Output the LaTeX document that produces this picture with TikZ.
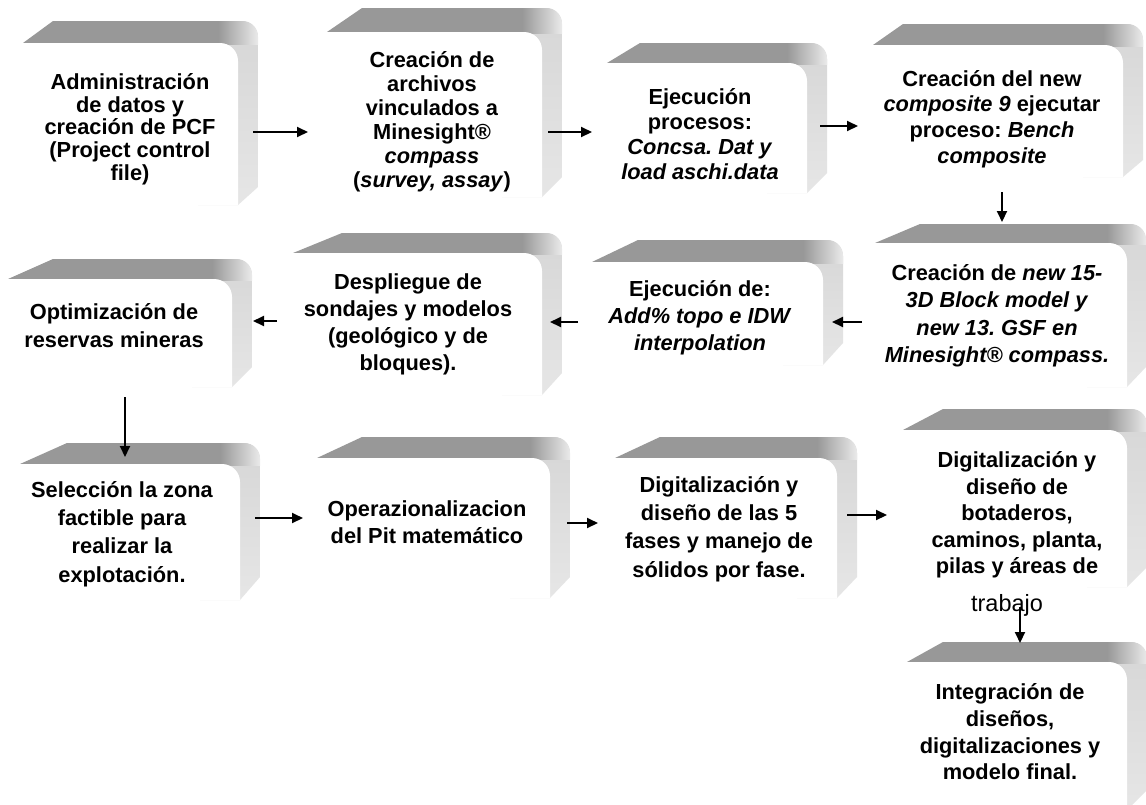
\documentclass[tikz,border=0pt]{standalone}
\usepackage{fontspec}
\setmainfont{Liberation Sans}
\usetikzlibrary{arrows.meta}
\frenchspacing
\definecolor{topgray}{HTML}{989898}
\definecolor{sideA}{HTML}{D6D6D6}
\definecolor{sideB}{HTML}{E6E6E6}
\definecolor{cornerlight}{HTML}{ECECEC}
% #1 L, #2 UL, #3 Tout, #4 T, #5 R, #6 Rout, #7 B, #8 Bout
\newcommand{\cbox}[8]{%
  \begin{scope}
    \clip (#1,#4) -- (#2,#3) -- ({#6-16},#3) .. controls ({#6-7},#3) and (#6,{#3+7}) .. (#6,{#3+16})
      -- (#6,#8) -- (#5,#7) -- (#1,#7) -- cycle;
    \shade[top color=sideA, bottom color=sideB] ({#5-40},#3) rectangle (#6,#7);
    \fill[topgray] ({#1-5},{#3-2}) rectangle ({#5-20},{#4+1});
    \shade[left color=topgray, right color=cornerlight] ({#5-20},{#3-2}) rectangle ({#6+1},{#4+1});
  \end{scope}
  \fill[white] (#1,#4) -- ({#5-18},#4) .. controls ({#5-8},#4) and (#5,{#4+8}) .. (#5,{#4+18})
    -- (#5,#7) -- (#1,#7) -- cycle;
}
\tikzset{
  face/.style={draw=none, inner sep=0pt, outer sep=0pt},
  txt/.style={align=center, inner sep=0pt, text=black},
  arr/.style={line width=2pt, -{Triangle[length=11pt,width=10pt]}},
}
\newcommand{\tf}[1]{\fontsize{21.8}{#1}\selectfont\bfseries}
\begin{document}
\begin{tikzpicture}[x=1pt,y=-1pt]
\useasboundingbox (0,0) rectangle (1146,804);
\fill[white] (0,0) rectangle (1146,804);
% boxes
\cbox{23}{53}{21}{43}{238}{258}{205}{187}
\cbox{327}{362}{8}{32}{542}{562}{197}{177}
\cbox{607}{640}{43}{63}{807}{827}{193}{173}
\cbox{873}{903}{24}{45}{1123}{1143}{177}{160}
\cbox{875}{920}{224}{243}{1127}{1146}{387}{367}
\cbox{592}{638}{240}{262}{823}{843}{365}{343}
\cbox{293}{342}{233}{253}{542}{562}{395}{373}
\cbox{8}{53}{259}{279}{232}{252}{387}{367}
\cbox{20}{67}{443}{464}{240}{260}{600}{577}
\cbox{317}{362}{437}{458}{550}{570}{598}{577}
\cbox{615}{660}{437}{458}{837}{857}{598}{577}
\cbox{903}{943}{409}{430}{1127}{1147}{587}{567}
\cbox{907}{943}{642}{662}{1127}{1147}{810}{790}
% face nodes
\node[face, minimum width=215pt, minimum height=162pt] (b1) at (130.5,124) {};
\node[face, minimum width=215pt, minimum height=165pt] (b2) at (434.5,114.5) {};
\node[face, minimum width=200pt, minimum height=130pt] (b3) at (707,128) {};
\node[face, minimum width=250pt, minimum height=132pt] (b4) at (998,111) {};
\node[face, minimum width=252pt, minimum height=144pt] (b5) at (1001,315) {};
\node[face, minimum width=231pt, minimum height=103pt] (b6) at (707.5,313.5) {};
\node[face, minimum width=249pt, minimum height=142pt] (b7) at (417.5,324) {};
\node[face, minimum width=224pt, minimum height=108pt] (b8) at (120,333) {};
\node[face, minimum width=220pt, minimum height=136pt] (b9) at (130,532) {};
\node[face, minimum width=233pt, minimum height=140pt] (b10) at (433.5,528) {};
\node[face, minimum width=222pt, minimum height=140pt] (b11) at (726,528) {};
\node[face, minimum width=224pt, minimum height=157pt] (b12) at (1015,508.5) {};
\node[face, minimum width=220pt, minimum height=148pt] (b13) at (1017,736) {};
% texts
\node[txt, font=\tf{22.7}] (t1) at (130,129) {Administración\\de datos y\\creación de PCF\\(Project control\\file)};
\node[txt, font=\tf{24}] (t2) at (432,122) {Creación de\\archivos\\vinculados a\\Minesight®\\\textit{compass}\\(\textit{survey, assay})};
\node[txt, font=\tf{25}] (t3) at (700,134) {Ejecución\\procesos:\\\textit{Concsa. Dat y}\\\textit{load aschi.data}};
\node[txt, font=\tf{25.7}] (t4) at (992,119) {Creación del new\\\textit{composite 9} ejecutar\\proceso: \textit{Bench}\\\textit{composite}};
\node[txt, font=\tf{27.5}] (t5) at (997,316) {Creación de \textit{new 15-}\\\textit{3D Block model y}\\\textit{new 13. GSF en}\\\textit{Minesight® compass.}};
\node[txt, font=\tf{27}] (t6) at (700,318) {Ejecución de:\\\textit{Add\% topo e IDW}\\\textit{interpolation}};
\node[txt, font=\tf{27}] (t7) at (408,324) {Despliegue de\\sondajes y modelos\\(geológico y de\\bloques).};
\node[txt, font=\tf{28}] (t8) at (114,326) {Optimización de\\reservas mineras};
\node[txt, font=\tf{28.3}] (t9) at (122,534) {Selección la zona\\factible para\\realizar la\\explotación.};
\node[txt, font=\tf{26.7}] (t10) at (427,522) {Operazionalizacion\\del Pit matemático};
\node[txt, font=\tf{28.3}] (t11) at (719,529) {Digitalización y\\diseño de las 5\\fases y manejo de\\sólidos por fase.};
\node[txt, font=\tf{26.5}] (t12) at (1017,515) {Digitalización y\\diseño de\\botaderos,\\caminos, planta,\\pilas y áreas de};
\node[txt, font={\fontsize{23.5}{28}\selectfont}] (t12b) at (1007,605) {trabajo};
\node[txt, font=\tf{26.7}] (t13) at (1010,732) {Integración de\\diseños,\\digitalizaciones y\\modelo final.};
% arrows
\draw[arr] ([shift={(15,8)}]b1.east) -- ([shift={(-19,17.5)}]b2.west);
\draw[arr] ([shift={(6,17.5)}]b2.east) -- ([shift={(-15,4)}]b3.west);
\draw[arr] ([shift={(13,-2)}]b3.east) -- ([shift={(-15,15)}]b4.west);
\draw[arr] ([shift={(4,15)}]b4.south) -- ([shift={(1,-21)}]b5.north);
\draw[arr] ([shift={(-13,7)}]b5.west) -- ([shift={(9,8.5)}]b6.east);
\draw[arr] ([shift={(-14,8.5)}]b6.west) -- ([shift={(8,-2)}]b7.east);
\draw[arr] ([shift={(-16,-3)}]b7.west) -- ([shift={(21,-12)}]b8.east);
\draw[arr] ([shift={(5,10)}]b8.south) -- ([shift={(-5,-7)}]b9.north);
\draw[arr] ([shift={(15,-14)}]b9.east) -- ([shift={(-14,-10)}]b10.west);
\draw[arr] ([shift={(17,-5)}]b10.east) -- ([shift={(-17,-5)}]b11.west);
\draw[arr] ([shift={(10,-13)}]b11.east) -- ([shift={(-16,6.5)}]b12.west);
\draw[arr] ([shift={(5,20)}]b12.south) -- ([shift={(3,-19)}]b13.north);
\end{tikzpicture}
\end{document}
